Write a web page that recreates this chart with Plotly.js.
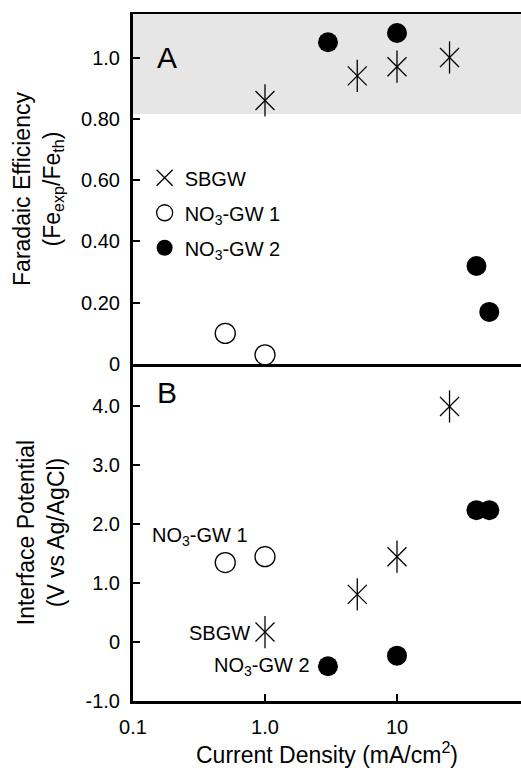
<!DOCTYPE html>
<html>
<head>
<meta charset="utf-8">
<script src="https://cdn.plot.ly/plotly-3.0.1.min.js"></script>
<style>html,body{margin:0;padding:0;background:#fff;}#chart{width:521px;height:768px;}</style>
</head>
<body>
<div id="chart"></div>
<script>
// Current density (mA/cm2)
const xSBGW = [1, 5, 10, 25];
const xGW1 = [0.5, 1];
const xGW2 = [3, 10, 40, 50];
// Panel A: Faradaic efficiency (Fe_exp/Fe_th)
const feSBGW = [0.86, 0.94, 0.97, 1.00];
const feGW1 = [0.10, 0.03];
const feGW2 = [1.05, 1.08, 0.32, 0.17];
// Panel B: Interface potential (V vs Ag/AgCl)
const ipSBGW = [0.17, 0.81, 1.45, 4.0];
const ipGW1 = [1.35, 1.45];
const ipGW2 = [-0.41, -0.23, 2.24, 2.24];
// Tick labels
const xTickVals = [0.1, 1, 10];
const xTickText = ['0.1', '1.0', '10'];
const feTickVals = [0, 0.2, 0.4, 0.6, 0.8, 1.0];
const feTickText = ['0', '0.20', '0.40', '0.60', '0.80', '1.0'];
const ipTickVals = [-1, 0, 1, 2, 3, 4];
const ipTickText = ['-1.0', '0', '1.0', '2.0', '3.0', '4.0'];
const seriesNames = ['SBGW', 'NO<sub>3</sub>-GW 1', 'NO<sub>3</sub>-GW 2'];

const FONT = 'Liberation Sans, Arial, sans-serif';
const starX = {symbol: 'x-thin-open', size: 19, color: '#000', line: {color: '#000', width: 1.3}};
const starV = {symbol: 'line-ns-open', size: 23, color: '#000', line: {color: '#000', width: 1.3}};
const openC = {symbol: 'circle-open', size: 20, color: '#000', line: {color: '#000', width: 1.3}};
const fillC = {symbol: 'circle', size: 20, color: '#000', line: {color: '#000', width: 0}};

const traces = [
  {x: xSBGW, y: feSBGW, xaxis: 'x2', yaxis: 'y2', mode: 'markers', name: seriesNames[0], legendgroup: 'a', marker: starX},
  {x: xSBGW, y: feSBGW, xaxis: 'x2', yaxis: 'y2', mode: 'markers', name: seriesNames[0], legendgroup: 'a', showlegend: false, marker: starV},
  {x: xGW1, y: feGW1, xaxis: 'x2', yaxis: 'y2', mode: 'markers', name: seriesNames[1], legendgroup: 'b', marker: openC},
  {x: xGW2, y: feGW2, xaxis: 'x2', yaxis: 'y2', mode: 'markers', name: seriesNames[2], legendgroup: 'c', marker: fillC},
  {x: xSBGW, y: ipSBGW, xaxis: 'x', yaxis: 'y', mode: 'markers', showlegend: false, marker: starX},
  {x: xSBGW, y: ipSBGW, xaxis: 'x', yaxis: 'y', mode: 'markers', showlegend: false, marker: starV},
  {x: xGW1, y: ipGW1, xaxis: 'x', yaxis: 'y', mode: 'markers', showlegend: false, marker: openC},
  {x: xGW2, y: ipGW2, xaxis: 'x', yaxis: 'y', mode: 'markers', showlegend: false, marker: fillC}
];

const xr = [-1, -1 + 388 / 132];
const layout = {
  width: 521, height: 768,
  margin: {l: 133, r: 0, t: 14, b: 67},
  paper_bgcolor: '#fff', plot_bgcolor: 'rgba(0,0,0,0)',
  font: {family: FONT, size: 20, color: '#000'},
  showlegend: true,
  legend: {x: 0.03, xanchor: 'left', y: 0.79, yanchor: 'top', bgcolor: 'rgba(0,0,0,0)',
           font: {family: FONT, size: 20, color: '#000'}, tracegroupgap: 6, itemwidth: 30},
  xaxis: {type: 'log', range: xr, domain: [0, 1], anchor: 'y',
          tickvals: xTickVals, ticktext: xTickText, ticks: 'inside', ticklen: 7, tickwidth: 2, tickcolor: '#000',
          showline: true, linecolor: '#000', linewidth: 3, mirror: false, showgrid: false, zeroline: false,
          tickfont: {family: FONT, size: 20}, ticklabelstandoff: 6,
          title: {text: 'Current Density (mA/cm<sup>2</sup>)', font: {family: FONT, size: 23}, standoff: 8}},
  xaxis2: {type: 'log', range: xr, domain: [0, 1], anchor: 'y2', matches: 'x',
           showticklabels: false, ticks: '', showline: true, linecolor: '#000', linewidth: 2.5, mirror: true,
           showgrid: false, zeroline: false},
  yaxis: {domain: [0, 0.4905], range: [-1, 4.72], anchor: 'x',
          tickvals: ipTickVals, ticktext: ipTickText, ticks: 'inside', ticklen: 7, tickwidth: 2, tickcolor: '#000',
          showline: true, linecolor: '#000', linewidth: 3, showgrid: false, zeroline: false,
          tickfont: {family: FONT, size: 20}, ticklabelstandoff: 6,
          title: {text: 'Interface Potential<br>(V vs Ag/AgCl)', font: {family: FONT, size: 23}, standoff: 15}},
  yaxis2: {domain: [0.4905, 1], range: [0, 1.142], anchor: 'x2',
           tickvals: feTickVals, ticktext: feTickText, ticks: 'inside', ticklen: 7, tickwidth: 2, tickcolor: '#000',
           showline: true, linecolor: '#000', linewidth: 3, showgrid: false, zeroline: false,
           tickfont: {family: FONT, size: 20}, ticklabelstandoff: 6,
           title: {text: 'Faradaic Efficiency<br>(Fe<sub>exp</sub>/Fe<sub>th</sub>)', font: {family: FONT, size: 23}, standoff: 15}},
  shapes: [
    {type: 'rect', xref: 'x2 domain', yref: 'y2', x0: 0, x1: 1, y0: 0.816, y1: 1.142,
     fillcolor: '#e6e6e6', line: {width: 0}, layer: 'below'}
  ],
  annotations: [
    {text: 'A', xref: 'paper', yref: 'paper', x: 0.0876, y: 0.937, xanchor: 'center', yanchor: 'middle', showarrow: false, font: {family: FONT, size: 30}},
    {text: 'B', xref: 'paper', yref: 'paper', x: 0.0876, y: 0.449, xanchor: 'center', yanchor: 'middle', showarrow: false, font: {family: FONT, size: 30}},
    {text: 'NO<sub>3</sub>-GW 1', xref: 'x', yref: 'y', x: -0.492, y: 1.79, xanchor: 'center', yanchor: 'middle', showarrow: false, font: {family: FONT, size: 20}},
    {text: 'SBGW', xref: 'x', yref: 'y', x: -0.098, y: 0.16, xanchor: 'right', yanchor: 'middle', showarrow: false, font: {family: FONT, size: 20}},
    {text: 'NO<sub>3</sub>-GW 2', xref: 'x', yref: 'y', x: 0.356, y: -0.41, xanchor: 'right', yanchor: 'middle', showarrow: false, font: {family: FONT, size: 20}}
  ]
};

Plotly.newPlot('chart', traces, layout, {displayModeBar: false, staticPlot: true});
</script>
</body>
</html>
